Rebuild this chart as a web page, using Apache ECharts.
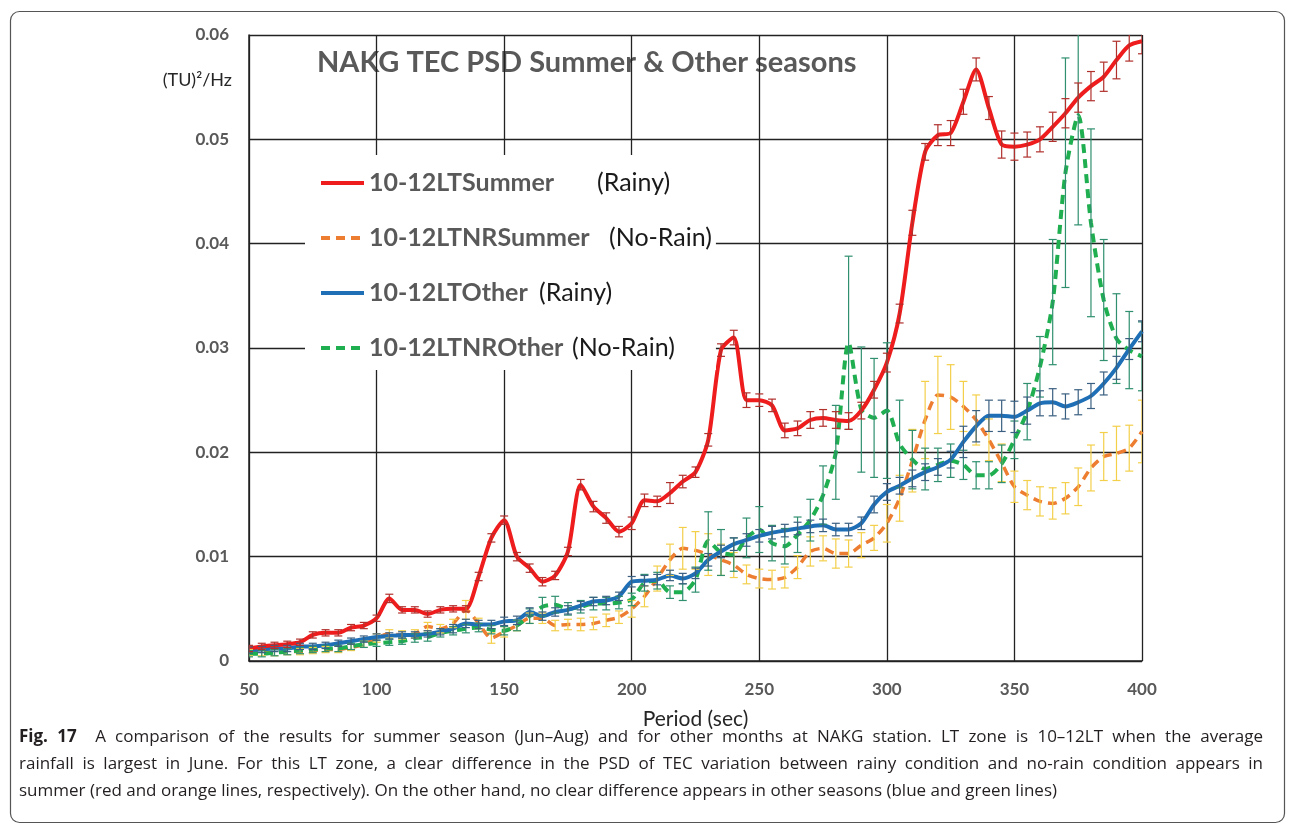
<!DOCTYPE html>
<html>
<head>
<meta charset="utf-8">
<script src="https://cdn.jsdelivr.net/npm/echarts@6/dist/echarts.min.js"></script>
<style>
  html, body { margin: 0; padding: 0; background: #fff; }
  #main { width: 1292px; height: 829px; }
  #caption {
    position: absolute;
    left: 19px;
    top: 722px;
    width: 1244px;
    font-family: "Open Sans", sans-serif;
    font-size: 17px;
    line-height: 27px;
    color: #231f20;
  }
  #caption div { text-align: justify; text-align-last: justify; white-space: nowrap; }
  #caption div.last { text-align: left; text-align-last: left; }
</style>
</head>
<body>
<div id="main"></div>
<div id="caption">
  <div><b>Fig. 17</b>&nbsp; A comparison of the results for summer season (Jun–Aug) and for other months at NAKG station. LT zone is 10–12LT when the average</div>
  <div>rainfall is largest in June. For this LT zone, a clear difference in the PSD of TEC variation between rainy condition and no-rain condition appears in</div>
  <div class="last">summer (red and orange lines, respectively). On the other hand, no clear difference appears in other seasons (blue and green lines)</div>
</div>
<script>
const PERIODS = [50, 55, 60, 65, 70, 75, 80, 85, 90, 95, 100, 105, 110, 115, 120, 125, 130, 135, 140, 145,
  150, 155, 160, 165, 170, 175, 180, 185, 190, 195, 200, 205, 210, 215, 220, 225, 230, 235, 240, 245,
  250, 255, 260, 265, 270, 275, 280, 285, 290, 295, 300, 305, 310, 315, 320, 325, 330, 335, 340, 345,
  350, 355, 360, 365, 370, 375, 380, 385, 390, 395, 400]

// 10-12LTSummer (rainy)
const SUMMER = [0.0012, 0.0014, 0.0015, 0.0016, 0.0018, 0.0025, 0.0027, 0.0027, 0.0032, 0.0034,
  0.0041, 0.0060, 0.0049, 0.0049, 0.0045, 0.0049, 0.0050, 0.0050, 0.0081, 0.0118,
  0.0135, 0.0100, 0.0089, 0.0076, 0.0082, 0.0105, 0.0169, 0.0148, 0.0137, 0.0124,
  0.0132, 0.0154, 0.0153, 0.0161, 0.0172, 0.0181, 0.0212, 0.0298, 0.0310, 0.0250,
  0.0250, 0.0245, 0.0221, 0.0223, 0.0231, 0.0233, 0.0231, 0.0230, 0.0240, 0.0260,
  0.0286, 0.0333, 0.0420, 0.0488, 0.0504, 0.0506, 0.0536, 0.0567, 0.0530, 0.0495,
  0.0493, 0.0495, 0.0500, 0.0512, 0.0525, 0.0540, 0.0551, 0.0560, 0.0576, 0.0590, 0.0594]
const SUMMER_ERR = [0.0003, 0.0003, 0.0003, 0.0003, 0.0003, 0.0003, 0.0003, 0.0003, 0.0003, 0.0003,
  0.0003, 0.0004, 0.0003, 0.0003, 0.0003, 0.0003, 0.0003, 0.0003, 0.0004, 0.0004,
  0.0004, 0.0004, 0.0004, 0.0004, 0.0004, 0.0004, 0.0005, 0.0005, 0.0005, 0.0005,
  0.0006, 0.0006, 0.0005, 0.0010, 0.0006, 0.0005, 0.0006, 0.0006, 0.0007, 0.0007,
  0.0006, 0.0006, 0.0007, 0.0007, 0.0008, 0.0008, 0.0008, 0.0008, 0.0008, 0.0008,
  0.0009, 0.0009, 0.0012, 0.0008, 0.0010, 0.0012, 0.0012, 0.0011, 0.0011, 0.0013,
  0.0013, 0.0012, 0.0012, 0.0014, 0.0014, 0.0014, 0.0014, 0.0014, 0.0018, 0.0015, 0.0012]

// 10-12LTNRSummer (no rain)
const NR_SUMMER = [0.0008, 0.0008, 0.0008, 0.0009, 0.0009, 0.0010, 0.0011, 0.0011, 0.0013, 0.0016,
  0.0022, 0.0026, 0.0025, 0.0026, 0.0033, 0.0031, 0.0036, 0.0049, 0.0036, 0.0022,
  0.0028, 0.0034, 0.0041, 0.0041, 0.0034, 0.0035, 0.0035, 0.0036, 0.0039, 0.0042,
  0.0050, 0.0062, 0.0079, 0.0097, 0.0108, 0.0106, 0.0102, 0.0097, 0.0092, 0.0083,
  0.0079, 0.0078, 0.0080, 0.0090, 0.0105, 0.0108, 0.0103, 0.0103, 0.0111, 0.0118,
  0.0132, 0.0156, 0.0192, 0.0231, 0.0255, 0.0253, 0.0244, 0.0231, 0.0212, 0.0190,
  0.0167, 0.0159, 0.0153, 0.0151, 0.0156, 0.0167, 0.0185, 0.0196, 0.0199, 0.0204, 0.0220]
const NR_SUMMER_ERR = [0.0003, 0.0003, 0.0003, 0.0003, 0.0003, 0.0003, 0.0003, 0.0003, 0.0003, 0.0003,
  0.0004, 0.0004, 0.0004, 0.0004, 0.0004, 0.0004, 0.0004, 0.0009, 0.0005, 0.0005,
  0.0005, 0.0005, 0.0005, 0.0005, 0.0005, 0.0005, 0.0006, 0.0006, 0.0006, 0.0006,
  0.0008, 0.0010, 0.0012, 0.0015, 0.0020, 0.0018, 0.0020, 0.0015, 0.0012, 0.0009,
  0.0009, 0.0009, 0.0010, 0.0011, 0.0014, 0.0012, 0.0014, 0.0013, 0.0012, 0.0012,
  0.0018, 0.0022, 0.0030, 0.0037, 0.0037, 0.0031, 0.0024, 0.0024, 0.0020, 0.0018,
  0.0015, 0.0014, 0.0014, 0.0015, 0.0015, 0.0018, 0.0022, 0.0023, 0.0026, 0.0022, 0.0030]

// 10-12LTOther (rainy)
const OTHER = [0.00105, 0.0011, 0.0012, 0.0012, 0.0014, 0.0014, 0.0015, 0.0017, 0.0019, 0.0021,
  0.0023, 0.0024, 0.0025, 0.0025, 0.0026, 0.0028, 0.0031, 0.0036, 0.0035, 0.0035,
  0.0038, 0.0039, 0.0047, 0.0043, 0.0047, 0.0049, 0.0053, 0.0057, 0.0058, 0.0062,
  0.0076, 0.0077, 0.0078, 0.0082, 0.0079, 0.0084, 0.0097, 0.0105, 0.0112, 0.0116,
  0.0120, 0.0123, 0.0125, 0.0127, 0.0129, 0.0130, 0.0126, 0.0126, 0.0132, 0.0150,
  0.0162, 0.0168, 0.0175, 0.0181, 0.0186, 0.0193, 0.0210, 0.0225, 0.0235, 0.0235,
  0.0234, 0.0240, 0.0247, 0.0248, 0.0244, 0.0248, 0.0254, 0.0266, 0.0281, 0.0299, 0.0316]
const OTHER_ERR = [0.0003, 0.0003, 0.0003, 0.0003, 0.0003, 0.0003, 0.0003, 0.0003, 0.0003, 0.0003,
  0.0003, 0.0003, 0.0003, 0.0003, 0.0003, 0.0003, 0.0004, 0.0004, 0.0004, 0.0004,
  0.0004, 0.0004, 0.0004, 0.0004, 0.0004, 0.0004, 0.0004, 0.0004, 0.0004, 0.0004,
  0.0005, 0.0005, 0.0005, 0.0005, 0.0005, 0.0005, 0.0006, 0.0006, 0.0006, 0.0006,
  0.0006, 0.0006, 0.0006, 0.0006, 0.0006, 0.0006, 0.0006, 0.0006, 0.0006, 0.0008,
  0.0008, 0.0008, 0.0008, 0.0008, 0.0008, 0.0008, 0.0015, 0.0015, 0.0015, 0.0015,
  0.0015, 0.0013, 0.0012, 0.0013, 0.0012, 0.0012, 0.0012, 0.0011, 0.0011, 0.0010, 0.0010]

// 10-12LTNROther (no rain)
const NR_OTHER = [0.0007, 0.0007, 0.0008, 0.0009, 0.0010, 0.0011, 0.0012, 0.0012, 0.0014, 0.0016,
  0.0017, 0.0018, 0.0019, 0.0022, 0.0023, 0.0027, 0.0029, 0.0031, 0.0032, 0.0030,
  0.0029, 0.0034, 0.0043, 0.0052, 0.0054, 0.0050, 0.0052, 0.0055, 0.0055, 0.0056,
  0.0059, 0.0075, 0.0077, 0.0066, 0.0066, 0.0078, 0.0115, 0.0104, 0.0102, 0.0118,
  0.0126, 0.0113, 0.0110, 0.0121, 0.0135, 0.0159, 0.0200, 0.0305, 0.0241, 0.0233,
  0.0240, 0.0208, 0.0193, 0.0184, 0.0188, 0.0192, 0.0188, 0.0178, 0.0178, 0.0189,
  0.0212, 0.0239, 0.0282, 0.0344, 0.0468, 0.0523, 0.0420, 0.0346, 0.0309, 0.0298, 0.0292]
const NR_OTHER_ERR = [0.0003, 0.0003, 0.0003, 0.0003, 0.0003, 0.0003, 0.0003, 0.0003, 0.0003, 0.0003,
  0.0003, 0.0003, 0.0003, 0.0004, 0.0004, 0.0004, 0.0004, 0.0004, 0.0004, 0.0004,
  0.0004, 0.0005, 0.0007, 0.0009, 0.0008, 0.0006, 0.0006, 0.0006, 0.0006, 0.0006,
  0.0006, 0.0008, 0.0008, 0.0006, 0.0008, 0.0012, 0.0028, 0.0022, 0.0016, 0.0019,
  0.0022, 0.0017, 0.0017, 0.0017, 0.0020, 0.0028, 0.0045, 0.0083, 0.0060, 0.0057,
  0.0065, 0.0042, 0.0028, 0.0020, 0.0016, 0.0016, 0.0014, 0.0013, 0.0013, 0.0018,
  0.0018, 0.0027, 0.0029, 0.0060, 0.0110, 0.0105, 0.0090, 0.0058, 0.0043, 0.0037, 0.0033]

const SERIES_NAMES = ['10-12LTSummer', '10-12LTNRSummer', '10-12LTOther', '10-12LTNROther']
const SUFFIXES = ['(Rainy)', '(No-Rain)', '(Rainy)', '(No-Rain)']

const FONT = 'Lato, "Open Sans", sans-serif'

function lineSeries(name, values, color, width, dashed) {
  return {
    name,
    type: 'line',
    smooth: 0.25,
    symbol: 'none',
    data: values.map((v, i) => [PERIODS[i], v]),
    lineStyle: { color, width, type: dashed ? [9, 6] : 'solid' },
    itemStyle: { color },
    z: 3,
  }
}

function errorSeries(name, values, errors, color) {
  return {
    name: name + ' err',
    type: 'custom',
    clip: true,
    silent: true,
    z: 4,
    encode: { x: 0, y: [1, 2] },
    data: values.map((v, i) => [PERIODS[i], v - errors[i], v + errors[i]]),
    renderItem(params, api) {
      const top = api.coord([api.value(0), api.value(2)])
      const bottom = api.coord([api.value(0), api.value(1)])
      const x = top[0]
      const style = { stroke: color, lineWidth: 1.2 }
      return {
        type: 'group',
        children: [
          { type: 'line', shape: { x1: x, y1: top[1], x2: x, y2: bottom[1] }, style },
          { type: 'line', shape: { x1: x - 4, y1: top[1], x2: x + 4, y2: top[1] }, style },
          { type: 'line', shape: { x1: x - 4, y1: bottom[1], x2: x + 4, y2: bottom[1] }, style },
        ],
      }
    },
  }
}

function main() {
  const chart = echarts.init(document.getElementById('main'))

  // legend text: name in a fixed-width box so the "(Rainy)" parts line up as in the figure
  const nameWidths = [228, 240, 170, 203]
  const rich = { p: { fontSize: 25, color: '#1a1a1a', fontFamily: FONT } }
  nameWidths.forEach((w, i) => {
    rich['n' + i] = { width: w, fontSize: 25, fontWeight: 'bold', color: '#595959', fontFamily: FONT }
  })

  chart.setOption({
    animation: false,
    grid: { left: 249, right: 150, top: 35, bottom: 168 },
    xAxis: {
      type: 'value',
      min: 50,
      max: 400,
      interval: 50,
      name: 'Period (sec)',
      nameLocation: 'middle',
      nameGap: 48,
      nameTextStyle: { fontSize: 21, color: '#262626', fontFamily: FONT },
      axisLine: { lineStyle: { color: '#222', width: 1.5 } },
      axisTick: { show: false },
      axisLabel: { margin: 20, fontSize: 17, fontWeight: 'bold', color: '#595959', fontFamily: FONT },
      splitLine: { lineStyle: { color: '#222', width: 1.3 } },
    },
    yAxis: {
      type: 'value',
      min: 0,
      max: 0.06,
      interval: 0.01,
      axisLine: { show: true, lineStyle: { color: '#222', width: 1.5 } },
      axisTick: { show: false },
      axisLabel: {
        margin: 20,
        fontSize: 17,
        fontWeight: 'bold',
        color: '#595959',
        fontFamily: FONT,
        formatter: (v) => (v === 0 ? '0' : v.toFixed(2)),
      },
      splitLine: { lineStyle: { color: '#222', width: 1.3 } },
    },
    legend: {
      data: SERIES_NAMES,
      orient: 'vertical',
      left: 305,
      top: 155,
      padding: [14, 4, 8, 14],
      backgroundColor: '#fff',
      itemWidth: 43,
      itemHeight: 2,
      itemGap: 27,
      itemStyle: { opacity: 0 },
      lineStyle: { width: 4 },
      textStyle: { lineHeight: 28, rich },
      formatter: (name) => {
        const i = SERIES_NAMES.indexOf(name)
        return `{n${i}|${name}}{p|${SUFFIXES[i]}}`
      },
    },
    graphic: [
      {
        type: 'rect',
        shape: { x: 10.5, y: 11.5, width: 1274, height: 811, r: 9 },
        style: { fill: 'none', stroke: '#555', lineWidth: 1.2 },
        silent: true,
      },
      {
        type: 'text',
        x: 317,
        y: 63,
        style: {
          text: 'NAKG TEC PSD Summer & Other seasons',
          verticalAlign: 'middle',
          fontSize: 29,
          fontWeight: 'bold',
          fill: '#595959',
          fontFamily: FONT,
        },
      },
      {
        type: 'text',
        x: 232,
        y: 80,
        style: { text: '(TU)\u00b2/Hz', align: 'right', verticalAlign: 'middle', fontSize: 18, fill: '#262626', fontFamily: FONT },
      },
    ],
    series: [
      lineSeries(SERIES_NAMES[1], NR_SUMMER, '#ed7d31', 3.5, true),
      errorSeries(SERIES_NAMES[1], NR_SUMMER, NR_SUMMER_ERR, '#f3cf4a'),
      lineSeries(SERIES_NAMES[3], NR_OTHER, '#1fae50', 4, true),
      errorSeries(SERIES_NAMES[3], NR_OTHER, NR_OTHER_ERR, '#2f8f6f'),
      lineSeries(SERIES_NAMES[2], OTHER, '#1f6fb6', 4, false),
      errorSeries(SERIES_NAMES[2], OTHER, OTHER_ERR, '#3a5f80'),
      lineSeries(SERIES_NAMES[0], SUMMER, '#ee1c1c', 4, false),
      errorSeries(SERIES_NAMES[0], SUMMER, SUMMER_ERR, '#b0302c'),
    ],
  })
}

window.onload = main
</script>
</body>
</html>
